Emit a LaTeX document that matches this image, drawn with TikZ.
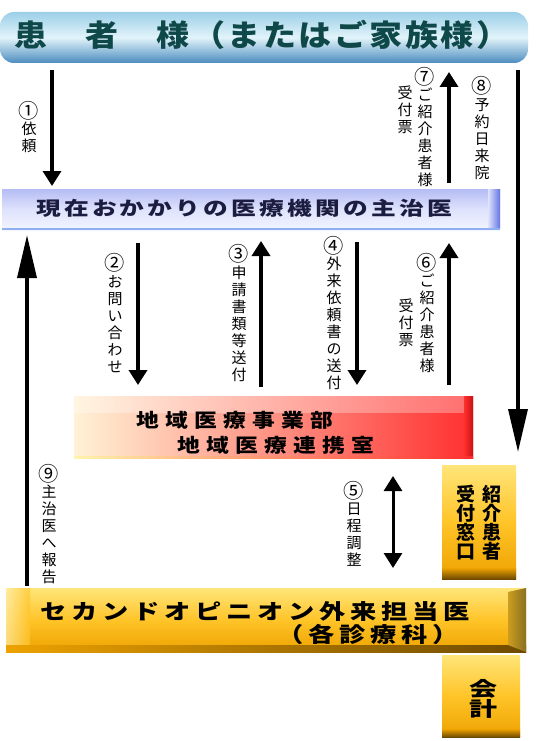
\documentclass[tikz,border=0pt]{standalone}
\usepackage{fontspec}
\usepackage{graphicx}
\newfontfamily\jp{Noto Sans CJK JP}
\usetikzlibrary{arrows.meta}
\newcommand\cn[1]{\raisebox{-0.5pt}{\scalebox{1.35}{#1}}}
\definecolor{pattop}{HTML}{9CCFE8}
\definecolor{patmid}{HTML}{E2F4FA}
\definecolor{patbot}{HTML}{4C8CC0}
\definecolor{pattext}{HTML}{0F4848}
\definecolor{doctop}{HTML}{B4BCF4}
\definecolor{docmid}{HTML}{DFE3FC}
\definecolor{docbot}{HTML}{F2F4FF}
\definecolor{docline}{HTML}{8FB0F0}
\definecolor{docend}{HTML}{6474E4}
\definecolor{doctext}{HTML}{1C1C40}
\definecolor{redL}{HTML}{FFF2D6}
\definecolor{redR}{HTML}{FF3030}
\definecolor{redend}{HTML}{C81010}
\definecolor{goldtop}{HTML}{FFE57A}
\definecolor{goldmid}{HTML}{FFC428}
\definecolor{goldbot}{HTML}{EDA200}
\definecolor{goldbevel}{HTML}{6E4A00}
\definecolor{goldend}{HTML}{8A7020}
\begin{document}
\begin{tikzpicture}[x=1pt,y=-1pt,
  lab/.style={font=\jp\fontsize{15}{17}\selectfont, align=center, inner sep=0pt},
  arr/.style={line width=3.5pt, -{Triangle[length=15pt,width=18pt]}},
  longarr/.style={line width=3.5pt, -{Triangle[length=43pt,width=19pt]}},
  dblarr/.style={line width=3pt, {Triangle[length=15pt,width=18pt]}-{Triangle[length=15pt,width=18pt]}},
  box/.style={inner sep=0pt, draw=none},
  gold/.style={box, top color=goldtop, bottom color=goldbot, middle color=goldmid},
  big/.style={font=\jp\bfseries\fontsize{19}{19}\selectfont, inner sep=0pt, text=black},
]
\useasboundingbox (0,0) rectangle (539,741);
\fill[white] (0,0) rectangle (539,741);

% ---------- patient banner ----------
\node[box, rounded corners=14pt, top color=pattop, bottom color=patbot, middle color=patmid,
      minimum width=528pt, minimum height=51pt] (pat) at (264,37.5) {};
\node[font=\jp\bfseries\fontsize{30}{30}\selectfont, text=pattext, inner sep=0pt] (pattxt) at (262,35)
  {\scalebox{1.1}[1]{\addfontfeature{LetterSpace=7.5}患　者　様（またはご家族様）}};

% ---------- doctor banner ----------
\node[box, top color=doctop, bottom color=docbot, middle color=docmid,
      minimum width=498pt, minimum height=41pt] (doc) at (251,209.5) {};
\shade[left color=docmid, right color=docend] (488,189) rectangle (500,228);
\fill[docline] (2,228) rectangle (500,230);
\node[font=\jp\bfseries\fontsize{19}{19}\selectfont, text=doctext, inner sep=0pt] (doctxt) at (244,208.5)
  {\scalebox{1.3}[1]{\addfontfeature{LetterSpace=13}現在おかかりの医療機関の主治医}};

% ---------- regional banner ----------
\node[box, left color=redL, right color=redR, minimum width=399pt, minimum height=62pt] (reg) at (273.5,427) {};
\shade[top color=white, bottom color=white, middle color=white, opacity=0.3] (74,396) rectangle (473,412);
\shade[left color=redR, right color=redend] (464,396) rectangle (473,458);
\shade[left color=yellow!25!redL, right color=redR, opacity=0.8] (74,456) rectangle (473,458);
\node[big] (reg1) at (235,420)
  {\scalebox{1.2}[1]{\addfontfeature{LetterSpace=27}地域医療事業部}};
\node[big] (reg2) at (276,445)
  {\scalebox{1.2}[1]{\addfontfeature{LetterSpace=27}地域医療連携室}};

% ---------- reception box ----------
\node[gold, minimum width=74pt, minimum height=114pt] (rec) at (479,522) {};
\shade[top color=goldbot, bottom color=goldbevel] (442,568) rectangle (516,579);
\node[big, align=center] (rec1) at (492,523) {紹\\介\\患\\者};
\node[big, align=center] (rec2) at (466,523) {受\\付\\窓\\口};

% ---------- second opinion banner ----------
\node[gold, minimum width=520pt, minimum height=64pt] (sec) at (266,620) {};
\shade[left color=goldtop!60!white, right color=goldmid, opacity=0.7] (6,588) rectangle (30,645);
\shade[left color=goldbot, right color=goldbevel] (6,645) -- (526,645) -- (526,652) -- (6,652) -- cycle;
\shade[left color=goldmid!80!black, right color=goldend] (508,592) -- (526,588) -- (526,652) -- (508,645) -- cycle;
\node[font=\jp\bfseries\fontsize{21}{21}\selectfont, inner sep=0pt] (sec1) at (255,612)
  {\scalebox{1.25}[1]{\addfontfeature{LetterSpace=18}セカンドオピニオン外来担当医}};
\node[font=\jp\bfseries\fontsize{21}{21}\selectfont, inner sep=0pt] (sec2) at (368,634)
  {\scalebox{1.25}[1]{\addfontfeature{LetterSpace=18}（各診療科）}};

% ---------- cashier box ----------
\node[gold, minimum width=78pt, minimum height=82pt] (cash) at (481,696) {};
\shade[top color=goldbot, bottom color=goldbevel] (442,729) rectangle (520,737);
\node[font=\jp\bfseries\fontsize{20}{20}\selectfont, inner sep=0pt, align=center] (cashtxt) at (483,699)
  {\scalebox{1.4}[1]{会}\\\scalebox{1.4}[1]{計}};

% ---------- connector end points ----------
\coordinate (a1s) at (52,70);   \coordinate (a1e) at (52,186);
\coordinate (a7s) at (449,183); \coordinate (a7e) at (449,72);
\coordinate (a8s) at (518,70);  \coordinate (a8e) at (518,452);
\coordinate (a2s) at (138,243); \coordinate (a2e) at (138,385);
\coordinate (a3s) at (261,387); \coordinate (a3e) at (261,241);
\coordinate (a4s) at (357,242); \coordinate (a4e) at (357,385);
\coordinate (a6s) at (449,385); \coordinate (a6e) at (449,243);
\coordinate (a9s) at (27,586);  \coordinate (a9e) at (27,235);
\coordinate (a5s) at (393,476); \coordinate (a5e) at (393,568);

\draw[arr] (a1s) -- (a1e);
\draw[arr] (a7s) -- (a7e);
\draw[longarr] (a8s) -- (a8e);
\draw[arr] (a2s) -- (a2e);
\draw[arr] (a3s) -- (a3e);
\draw[arr] (a4s) -- (a4e);
\draw[arr] (a6s) -- (a6e);
\draw[longarr] (a9s) -- (a9e);
\draw[dblarr] (a5s) -- (a5e);

% ---------- labels ----------
\node[lab] (l1) at (29,127) {\cn{①}\\依\\頼};
\node[lab] (l7) at (425,127) {\cn{⑦}\\ご\\紹\\介\\患\\者\\様};
\node[lab] (l7b) at (405,110) {受\\付\\票};
\node[lab] (l8) at (482,128) {\cn{⑧}\\予\\約\\日\\来\\院};
\node[lab] (l2) at (115,313) {\cn{②}\\お\\問\\い\\合\\わ\\せ};
\node[lab] (l3) at (239,313) {\cn{③}\\申\\請\\書\\類\\等\\送\\付};
\node[lab] (l4) at (334,313) {\cn{④}\\外\\来\\依\\頼\\書\\の\\送\\付};
\node[lab] (l6) at (427,313) {\cn{⑥}\\ご\\紹\\介\\患\\者\\様};
\node[lab] (l6b) at (406,323) {受\\付\\票};
\node[lab] (l9) at (49,524) {\cn{⑨}\\主\\治\\医\\へ\\報\\告};
\node[lab] (l5) at (354,524) {\cn{⑤}\\日\\程\\調\\整};
\end{tikzpicture}
\end{document}
